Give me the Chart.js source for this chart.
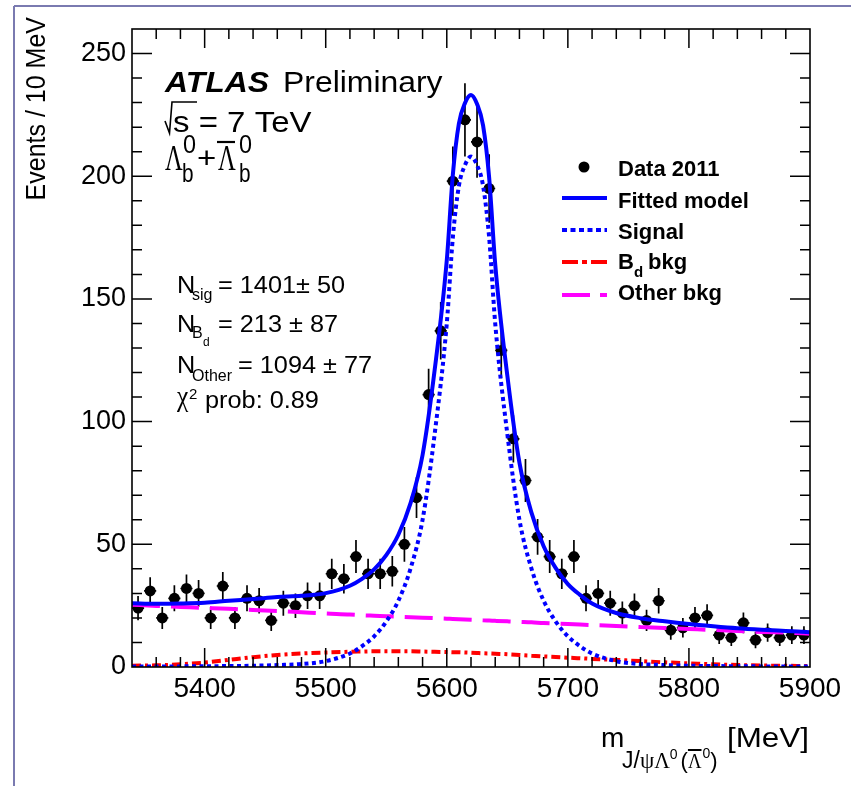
<!DOCTYPE html>
<html>
<head>
<meta charset="utf-8">
<script src="https://cdn.jsdelivr.net/npm/chart.js@4.4.1/dist/chart.umd.min.js"></script>
<style>
  html, body { margin: 0; padding: 0; background: #fff; }
  canvas { display: block; }
</style>
</head>
<body>
<canvas id="c" width="851" height="786"></canvas>
<script>
// bin centres (10 MeV bins) and counts
const binCenters = [5345, 5355, 5365, 5375, 5385, 5395, 5405, 5415, 5425, 5435,
  5445, 5455, 5465, 5475, 5485, 5495, 5505, 5515, 5525, 5535,
  5545, 5555, 5565, 5575, 5585, 5595, 5605, 5615, 5625, 5635,
  5645, 5655, 5665, 5675, 5685, 5695, 5705, 5715, 5725, 5735,
  5745, 5755, 5765, 5775, 5785, 5795, 5805, 5815, 5825, 5835,
  5845, 5855, 5865, 5875, 5885, 5895];
const counts = [24, 31, 20, 28, 32, 30, 20, 33, 20, 28,
  27, 19, 26, 25, 29, 29, 38, 36, 45, 38,
  38, 39, 50, 69, 111, 137, 198, 223, 214, 195,
  129, 93, 76, 53, 45, 38, 45, 28, 30, 26,
  22, 25, 19, 27, 15, 16, 20, 21, 13, 12,
  18, 11, 14, 12, 13, 13];

// fit curves
const curveMass = [5340, 5360, 5380, 5400, 5420, 5440, 5460, 5480, 5500, 5520,
  5530, 5540, 5550, 5560, 5570, 5580, 5590, 5600, 5605, 5610,
  5615, 5620, 5625, 5630, 5635, 5640, 5650, 5660, 5670, 5680,
  5690, 5700, 5710, 5720, 5740, 5760, 5780, 5800, 5820, 5840,
  5860, 5880, 5900];
const fitVals = [26.0, 25.8, 25.9, 26.2, 27.0, 27.7, 28.5, 29.0, 30.1, 33.1,
  35.9, 39.8, 45.6, 53.9, 66.7, 86.4, 121.1, 165.8, 200.6, 221.5,
  229.8, 233.1, 229.4, 220.6, 199.4, 164.2, 118.8, 83.3, 62.8, 49.2,
  40.3, 33.8, 29.4, 25.9, 22.0, 19.9, 18.6, 17.5, 16.6, 15.8,
  15.2, 14.7, 14.2];
const signalVals = [0.15, 0.2, 0.25, 0.3, 0.4, 0.5, 0.8, 1.2, 2.4, 5.5,
  8.5, 12.5, 18.5, 27, 40, 60, 95, 140, 175, 196,
  204.5, 208, 204.5, 196, 175, 140, 95, 60, 40, 27,
  18.5, 12.5, 8.5, 5.5, 2.4, 1.2, 0.8, 0.5, 0.4, 0.3,
  0.25, 0.2, 0.15];
const bdVals = [0.5, 0.7, 1.1, 1.8, 2.9, 4.0, 4.9, 5.5, 5.9, 6.2,
  6.3, 6.4, 6.4, 6.4, 6.4, 6.3, 6.2, 6.1, 6.0, 6.0,
  5.9, 5.8, 5.7, 5.6, 5.5, 5.4, 5.2, 4.9, 4.6, 4.3,
  4.1, 3.8, 3.6, 3.3, 2.9, 2.4, 1.9, 1.5, 1.1, 0.8,
  0.6, 0.5, 0.4];
const otherVals = [25.4, 24.9, 24.5, 24.1, 23.7, 23.2, 22.8, 22.3, 21.8, 21.4,
  21.1, 20.9, 20.7, 20.5, 20.3, 20.1, 19.9, 19.7, 19.6, 19.5,
  19.4, 19.3, 19.2, 19.0, 18.9, 18.8, 18.6, 18.4, 18.2, 17.9,
  17.7, 17.5, 17.3, 17.1, 16.7, 16.3, 15.9, 15.5, 15.1, 14.7,
  14.3, 14.0, 13.6];

const xTickVals = [5400, 5500, 5600, 5700, 5800, 5900];
const yTickVals = [0, 50, 100, 150, 200, 250];
const X_MIN = 5340, X_MAX = 5900, X_MINOR = 20;
const Y_MIN = 0, Y_MAX = 260, Y_MINOR = 10;

const SANS = '"Liberation Sans", Arial, Helvetica, sans-serif';
const SERIF = '"Liberation Serif", "DejaVu Serif", serif';
const SX = 1.1;
const BLUE = '#0000ff', RED = '#ff0000', MAGENTA = '#ff00ff';
const DASH_SIG = [4, 3.5], DASH_BD = [9, 4, 3, 4], DASH_OTHER = [28, 11];

const pts = (xs, ys) => xs.map((x, i) => ({ x, y: ys[i] }));

function put(ctx, s, x, y, font, sx) {
  const k = sx === undefined ? SX : sx;
  ctx.save();
  ctx.font = font;
  ctx.fillStyle = '#000';
  ctx.textBaseline = 'alphabetic';
  ctx.textAlign = 'left';
  ctx.translate(x, y);
  ctx.scale(k, 1);
  ctx.fillText(s, 0, 0);
  const w = ctx.measureText(s).width * k;
  ctx.restore();
  return x + w;
}
function seg(ctx, x1, y1, x2, y2, color, w, dash) {
  ctx.save();
  ctx.strokeStyle = color;
  ctx.lineWidth = w;
  ctx.setLineDash(dash || []);
  ctx.beginPath();
  ctx.moveTo(x1, y1);
  ctx.lineTo(x2, y2);
  ctx.stroke();
  ctx.restore();
}

const atlasPlot = {
  id: 'atlasPlot',
  beforeDraw(chart) {
    const ctx = chart.ctx;
    ctx.save();
    ctx.fillStyle = '#fff';
    ctx.fillRect(0, 0, chart.width, chart.height);
    ctx.restore();
    // outer frame of the slide
    seg(ctx, 14, 6, 851, 6, '#7a7ab0', 2);
    seg(ctx, 14, 6, 14, 786, '#7a7ab0', 2);
  },
  beforeDatasetsDraw(chart) {
    // error bars: sqrt(N) vertically, half bin horizontally
    const ctx = chart.ctx, xs = chart.scales.x, ys = chart.scales.y;
    ctx.save();
    ctx.strokeStyle = '#000';
    ctx.lineWidth = 1.7;
    binCenters.forEach((m, i) => {
      const n = counts[i], e = Math.sqrt(n);
      const px = xs.getPixelForValue(m), py = ys.getPixelForValue(n);
      ctx.beginPath();
      ctx.moveTo(px, ys.getPixelForValue(n - e));
      ctx.lineTo(px, ys.getPixelForValue(n + e));
      ctx.moveTo(xs.getPixelForValue(m - 5), py);
      ctx.lineTo(xs.getPixelForValue(m + 5), py);
      ctx.stroke();
    });
    ctx.restore();
  },
  afterDatasetsDraw(chart) {
    const ctx = chart.ctx, xs = chart.scales.x, ys = chart.scales.y;
    const { left, right, top, bottom } = chart.chartArea;
    ctx.save();
    ctx.strokeStyle = '#000';
    ctx.lineWidth = 1.6;
    ctx.strokeRect(left, top, right - left, bottom - top);
    ctx.lineWidth = 1.5;
    ctx.beginPath();
    for (let v = X_MIN + X_MINOR; v < X_MAX; v += X_MINOR) {
      const px = xs.getPixelForValue(v);
      const len = xTickVals.includes(v) ? 19 : 10;
      ctx.moveTo(px, bottom); ctx.lineTo(px, bottom - len);
      ctx.moveTo(px, top); ctx.lineTo(px, top + len);
    }
    for (let v = Y_MIN + Y_MINOR; v < Y_MAX; v += Y_MINOR) {
      const py = ys.getPixelForValue(v);
      const len = yTickVals.includes(v) ? 20 : 10;
      ctx.moveTo(left, py); ctx.lineTo(left + len, py);
      ctx.moveTo(right, py); ctx.lineTo(right - len, py);
    }
    ctx.stroke();
    ctx.restore();
  },
  afterDraw(chart) {
    const ctx = chart.ctx;
    // ATLAS label
    put(ctx, 'ATLAS', 165, 92, 'italic bold 29px ' + SANS);
    put(ctx, 'Preliminary', 283, 92, '29px ' + SANS);
    // sqrt(s) = 7 TeV
    ctx.save();
    ctx.strokeStyle = '#000'; ctx.lineWidth = 1.6;
    ctx.beginPath();
    ctx.moveTo(165, 121); ctx.lineTo(169.5, 133); ctx.lineTo(172, 102); ctx.lineTo(197, 102);
    ctx.stroke();
    ctx.restore();
    put(ctx, 's = 7 TeV', 173, 132, '30px ' + SANS);
    // Lambda_b^0 + anti-Lambda_b^0
    put(ctx, 'Λ', 165, 170, '36px ' + SERIF, 0.68);
    put(ctx, 'b', 182, 182, '26px ' + SANS, 0.8);
    put(ctx, '0', 183, 153, '26px ' + SANS, 0.9);
    put(ctx, '+', 197, 168, '30px ' + SANS);
    put(ctx, 'Λ', 218, 170, '36px ' + SERIF, 0.68);
    seg(ctx, 217, 142, 235, 142, '#000', 2.2);
    put(ctx, 'b', 239, 182, '26px ' + SANS, 0.8);
    put(ctx, '0', 239, 153, '26px ' + SANS, 0.9);
    // fit results
    const F = '23px ' + SANS, FS = '16px ' + SANS;
    put(ctx, 'N', 177, 293, F);
    put(ctx, 'sig', 192, 300, FS, 1.0);
    put(ctx, '= 1401\u00b1 50', 218, 293, F);
    put(ctx, 'N', 177, 332, F);
    put(ctx, 'B', 192, 338, FS, 1.0);
    put(ctx, 'd', 203, 346, '12px ' + SANS, 1.0);
    put(ctx, '= 213 \u00b1 87', 218, 332, F);
    put(ctx, 'N', 177, 373, F);
    put(ctx, 'Other', 192, 381, FS, 1.0);
    put(ctx, '= 1094 \u00b1 77', 238, 373, F);
    put(ctx, 'χ', 177, 406, '30px ' + SERIF, 0.85);
    put(ctx, '2', 189, 399, '15px ' + SANS, 1.0);
    put(ctx, 'prob: 0.89', 205, 408, F);
    // legend
    const LB = 'bold 22px ' + SANS;
    ctx.save();
    ctx.fillStyle = '#000';
    ctx.beginPath(); ctx.arc(584, 167, 5.5, 0, Math.PI * 2); ctx.fill();
    ctx.restore();
    put(ctx, 'Data 2011', 618, 176, LB, 1.0);
    seg(ctx, 562, 198, 607, 198, BLUE, 4);
    put(ctx, 'Fitted model', 618, 208, LB, 1.0);
    seg(ctx, 562, 230, 607, 230, BLUE, 4, [5, 3.5]);
    put(ctx, 'Signal', 618, 239, LB, 1.0);
    seg(ctx, 562, 262, 607, 262, RED, 4, [16, 4, 5, 4]);
    put(ctx, 'B', 618, 269, LB, 1.0);
    put(ctx, 'd', 634, 277, 'bold 15px ' + SANS, 1.0);
    put(ctx, 'bkg', 648, 269, LB, 1.0);
    seg(ctx, 562, 295, 607, 295, MAGENTA, 4, [28, 10]);
    put(ctx, 'Other bkg', 618, 300, LB, 1.0);
    // y axis title
    ctx.save();
    ctx.translate(45, 17);
    ctx.rotate(-Math.PI / 2);
    ctx.scale(1, SX);
    ctx.font = '25px ' + SANS;
    ctx.fillStyle = '#000';
    ctx.textAlign = 'right';
    ctx.textBaseline = 'alphabetic';
    ctx.fillText('Events / 10 MeV', 0, 0);
    ctx.restore();
    // x axis title
    put(ctx, 'm', 601, 747, '28px ' + SANS, 1.0);
    let x = put(ctx, 'J', 622, 768, '23px ' + SANS, 1.0);
    x = put(ctx, '/', x, 768, '23px ' + SANS, 1.0);
    x = put(ctx, 'ψ', x, 768, '24px ' + SERIF, 0.95);
    x = put(ctx, 'Λ', x, 768, '24px ' + SERIF, 0.9);
    x = put(ctx, '0', x, 759, '14px ' + SANS, 1.0);
    x = put(ctx, '(', x + 3, 768, '22px ' + SANS, 1.0);
    const lx = x;
    x = put(ctx, 'Λ', x, 768, '22px ' + SERIF, 0.85);
    seg(ctx, lx, 750, x, 750, '#000', 2);
    x = put(ctx, '0', x + 1, 758, '14px ' + SANS, 1.0);
    put(ctx, ')', x, 768, '22px ' + SANS, 1.0);
    put(ctx, '[MeV]', 727, 747, '28px ' + SANS, 1.12);
  }
};

const lineDs = (label, vals, color, dash) => ({
  type: 'line', label, data: pts(curveMass, vals),
  borderColor: color, borderWidth: 4, borderDash: dash,
  pointRadius: 0, fill: false, cubicInterpolationMode: 'monotone'
});

new Chart(document.getElementById('c'), {
  type: 'scatter',
  data: {
    datasets: [
      lineDs('Fitted model', fitVals, BLUE, []),
      lineDs('Signal', signalVals, BLUE, DASH_SIG),
      lineDs('Bd bkg', bdVals, RED, DASH_BD),
      lineDs('Other bkg', otherVals, MAGENTA, DASH_OTHER),
      {
        type: 'scatter', label: 'Data 2011', data: pts(binCenters, counts),
        pointRadius: 5.5, pointBackgroundColor: '#000', pointBorderWidth: 0
      }
    ]
  },
  options: {
    responsive: false,
    animation: false,
    events: [],
    layout: { padding: { left: 0, top: 29, right: 41, bottom: 0 } },
    plugins: { legend: { display: false }, tooltip: { enabled: false } },
    scales: {
      x: {
        type: 'linear', min: X_MIN, max: X_MAX,
        afterBuildTicks: s => { s.ticks = xTickVals.map(v => ({ value: v })); },
        afterFit: s => { s.height = 119; },
        grid: { display: false, drawTicks: false },
        border: { display: false },
        ticks: {
          color: '#000', font: { family: SANS, size: 28 }, padding: 5,
          maxRotation: 0, autoSkip: false, callback: v => String(v)
        }
      },
      y: {
        type: 'linear', min: Y_MIN, max: Y_MAX,
        afterBuildTicks: s => { s.ticks = yTickVals.map(v => ({ value: v })); },
        afterFit: s => { s.width = 132; },
        grid: { display: false, drawTicks: false },
        border: { display: false },
        ticks: { color: '#000', font: { family: SANS, size: 27 }, padding: 6, callback: v => String(v) }
      }
    }
  },
  plugins: [atlasPlot]
});
</script>
</body>
</html>
